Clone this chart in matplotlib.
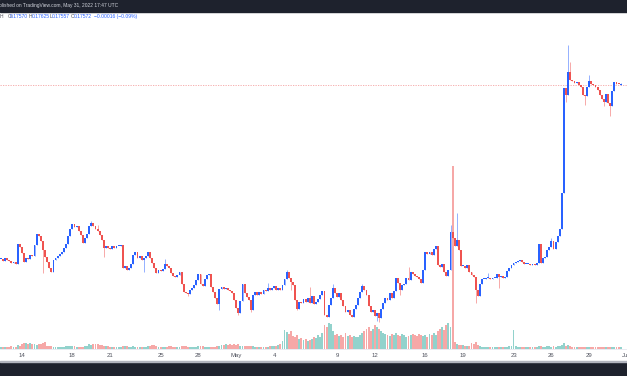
import numpy as np
import pandas as pd
import matplotlib
matplotlib.use("Agg")
import matplotlib.pyplot as plt
import matplotlib.dates as mdates
from matplotlib.patches import Rectangle

# 4h candles, 2022-04-12 08:00 UTC to 2022-05-31 16:00 UTC (closes)
close = [
    0.1235, 0.1229, 0.1238, 0.1232,
    0.1229, 0.1223, 0.1226, 0.1220, 0.1280, 0.1271,
    0.1253, 0.1226, 0.1238, 0.1235, 0.1247, 0.1244,
    0.1277, 0.1310, 0.1304, 0.1289, 0.1262, 0.1241,
    0.1226, 0.1208, 0.1196, 0.1232, 0.1238, 0.1244,
    0.1250, 0.1256, 0.1268, 0.1280, 0.1304, 0.1325,
    0.1340, 0.1331, 0.1334, 0.1319, 0.1307, 0.1283,
    0.1298, 0.1310, 0.1334, 0.1343, 0.1334, 0.1325,
    0.1319, 0.1307, 0.1292, 0.1268, 0.1274, 0.1268,
    0.1265, 0.1274, 0.1268, 0.1274, 0.1274, 0.1277,
    0.1208, 0.1214, 0.1202, 0.1208, 0.1220, 0.1247,
    0.1256, 0.1238, 0.1244, 0.1232, 0.1238, 0.1244,
    0.1256, 0.1238, 0.1223, 0.1208, 0.1193, 0.1202,
    0.1199, 0.1205, 0.1220, 0.1214, 0.1208, 0.1193,
    0.1184, 0.1181, 0.1187, 0.1196, 0.1160, 0.1136,
    0.1133, 0.1130, 0.1142, 0.1148, 0.1157, 0.1172,
    0.1190, 0.1160, 0.1154, 0.1175, 0.1187, 0.1190,
    0.1151, 0.1136, 0.1118, 0.1100, 0.1145, 0.1151,
    0.1145, 0.1148, 0.1142, 0.1139, 0.1133, 0.1112,
    0.1088, 0.1073, 0.1109, 0.1160, 0.1133, 0.1121,
    0.1112, 0.1082, 0.1127, 0.1136, 0.1127, 0.1136,
    0.1130, 0.1142, 0.1139, 0.1148, 0.1142, 0.1148,
    0.1154, 0.1142, 0.1148, 0.1142, 0.1157, 0.1175,
    0.1196, 0.1178, 0.1166, 0.1157, 0.1112, 0.1085,
    0.1106, 0.1103, 0.1115, 0.1106, 0.1118, 0.1103,
    0.1124, 0.1100, 0.1106, 0.1115, 0.1127, 0.1139,
    0.1067, 0.1061, 0.1097, 0.1118, 0.1148, 0.1133,
    0.1121, 0.1133, 0.1112, 0.1094, 0.1076, 0.1082,
    0.1067, 0.1061, 0.1085, 0.1097, 0.1118, 0.1136,
    0.1154, 0.1142, 0.1127, 0.1094, 0.1076, 0.1082,
    0.1064, 0.1073, 0.1058, 0.1085, 0.1103, 0.1118,
    0.1112, 0.1133, 0.1118, 0.1139, 0.1178, 0.1163,
    0.1142, 0.1157, 0.1160, 0.1178, 0.1172, 0.1196,
    0.1190, 0.1184, 0.1181, 0.1175, 0.1163, 0.1202,
    0.1256, 0.1250, 0.1256, 0.1247, 0.1265, 0.1274,
    0.1217, 0.1211, 0.1220, 0.1196, 0.1184, 0.1202,
    0.1316, 0.1298, 0.1274, 0.1292, 0.1262, 0.1214,
    0.1214, 0.1208, 0.1217, 0.1196, 0.1187, 0.1181,
    0.1142, 0.1124, 0.1160, 0.1175, 0.1175, 0.1178,
    0.1178, 0.1175, 0.1178, 0.1178, 0.1190, 0.1181,
    0.1184, 0.1178, 0.1181, 0.1199, 0.1208, 0.1217,
    0.1223, 0.1226, 0.1229, 0.1232, 0.1226, 0.1220,
    0.1220, 0.1220, 0.1217, 0.1220, 0.1217, 0.1223,
    0.1280, 0.1223, 0.1238, 0.1241, 0.1262, 0.1271,
    0.1289, 0.1265, 0.1286, 0.1304, 0.1325, 0.1433,
    0.1748, 0.1727, 0.1796, 0.1772, 0.1769, 0.1763,
    0.1766, 0.1757, 0.1751, 0.1727, 0.1724, 0.1751,
    0.1769, 0.1760, 0.1757, 0.1751, 0.1742, 0.1727,
    0.1715, 0.1706, 0.1730, 0.1703, 0.1694, 0.1739,
    0.1766, 0.1760, 0.17588, 0.17572,
]

# wicks that stick out of the bodies (candle index, price)
wick_hi_idx = [43, 46, 78, 127, 136, 147, 158, 172, 194, 214, 217, 232, 262, 270, 271, 280]
wick_hi = [0.1349, 0.1337, 0.1235, 0.1163, 0.1202, 0.1151, 0.1160, 0.1160, 0.1211,
           0.1337, 0.1373, 0.1193, 0.1298, 0.1877, 0.1826, 0.1787]
wick_lo_idx = [20, 49, 68, 89, 104, 113, 119, 138, 141, 179, 180, 190, 226, 237, 269, 278, 287, 290]
wick_lo = [0.1193, 0.1241, 0.1196, 0.1124, 0.1082, 0.1067, 0.1076, 0.1142, 0.1082,
           0.1049, 0.1046, 0.1127, 0.1103, 0.1148, 0.1706, 0.1697, 0.1694, 0.1664]

# last candle as shown in the legend
last_open, last_high, last_low, last_close = 0.17570, 0.17625, 0.17557, 0.17572

# volume per candle (K)
volume = [
    2, 2, 2, 2,
    2, 3, 2, 2, 4, 3,
    5, 6, 6, 5, 6, 5,
    5, 4, 5, 5, 6, 7,
    3, 3, 3, 2, 2, 2,
    2, 2, 2, 3, 3, 3,
    3, 3, 2, 2, 2, 2,
    3, 3, 5, 4, 5, 5,
    5, 4, 4, 3, 3, 3,
    2, 2, 2, 2, 2, 2,
    3, 3, 3, 2, 2, 3,
    2, 2, 2, 2, 2, 2,
    3, 3, 4, 4, 3, 2,
    2, 2, 2, 2, 3, 3,
    2, 2, 2, 2, 3, 3,
    3, 2, 2, 2, 2, 2,
    3, 3, 3, 2, 2, 2,
    2, 2, 2, 3, 3, 4,
    4, 5, 4, 5, 4, 5,
    4, 5, 3, 3, 3, 3,
    3, 3, 3, 2, 2, 2,
    2, 2, 2, 2, 3, 3,
    3, 3, 4, 5, 8, 19,
    17, 15, 18, 13, 12, 14,
    10, 11, 9, 10, 8, 9,
    10, 12, 11, 14, 12, 16,
    24, 22, 26, 25, 18, 14,
    15, 13, 14, 12, 16, 13,
    14, 12, 13, 12, 12, 14,
    16, 18, 20, 22, 18, 20,
    24, 22, 20, 18, 16, 15,
    14, 13, 15, 14, 16, 14,
    13, 15, 14, 12, 13, 14,
    15, 14, 13, 15, 14, 13,
    14, 12, 15, 14, 16, 14,
    18, 20, 22, 19, 24, 26,
    22, 183, 7, 5, 4, 4,
    4, 3, 3, 3, 6, 5,
    7, 4, 3, 2, 2, 2,
    2, 2, 2, 2, 2, 2,
    2, 2, 2, 2, 3, 3,
    19, 3, 2, 2, 2, 2,
    2, 2, 2, 2, 2, 2,
    3, 3, 2, 2, 3, 3,
    2, 3, 2, 3, 3, 4,
    6, 3, 4, 3, 2, 2,
    2, 2, 2, 2, 2, 2,
    2, 2, 2, 2, 2, 2,
    2, 2, 2, 2, 2, 2,
    2, 2, 2, 2,
]

tick_dates = ["2022-04-14", "2022-04-18", "2022-04-21", "2022-04-25", "2022-04-28",
              "2022-05-01", "2022-05-04", "2022-05-09", "2022-05-12", "2022-05-16",
              "2022-05-19", "2022-05-23", "2022-05-26", "2022-05-29", "2022-06-01"]
tick_labels = ["14", "18", "21", "25", "28", "May", "4", "9", "12", "16",
               "19", "23", "26", "29", "Jun"]

# Colors
UP = "#2962ff"
DOWN = "#ef5350"
VOL_UP = "#26a69a"
VOL_DOWN = "#ef5350"
DARK = "#1e222d"
GREY = "#50535e"

plt.rcParams["font.family"] = ["Liberation Sans", "DejaVu Sans"]

W, H = 627, 376
fig = plt.figure(figsize=(W / 100, H / 100), dpi=100)
fig.patch.set_facecolor("white")

# price pane from y=12 to y=349 px
ax = fig.add_axes([0, (H - 349) / H, 1, (349 - 12) / H])
vax = ax.twinx()
ax.set_zorder(vax.get_zorder() + 1)
ax.patch.set_visible(False)

# Build OHLC
close = np.array(close)
open_ = np.r_[close[0], close[:-1]]
open_[-1] = last_open
high = np.maximum(open_, close)
low = np.minimum(open_, close)
high[wick_hi_idx] = np.maximum(high[wick_hi_idx], wick_hi)
low[wick_lo_idx] = np.minimum(low[wick_lo_idx], wick_lo)
high[-1] = last_high
low[-1] = last_low

times = pd.date_range("2022-04-12 08:00", periods=len(close), freq="4h")
t = mdates.date2num(times.to_pydatetime())
up = close >= open_

body_lo = np.minimum(open_, close)
body_h = np.maximum(np.abs(close - open_), 0.0004)
body_colors = np.where(up, UP, DOWN)

# Volume (behind candles)
vol_colors = np.where(up, VOL_UP, VOL_DOWN)
vax.bar(t, volume, width=0.15, color=vol_colors, alpha=0.5, linewidth=0)
vax.set_ylim(0, 337)
vax.axis("off")

# Candles
ax.vlines(t, low, high, colors=body_colors, linewidth=0.7, alpha=0.5)
ax.bar(t, body_h, bottom=body_lo, width=0.15, color=body_colors, linewidth=0)

# last price line
ax.axhline(last_close, color="#f5a3a3", linewidth=0.6, linestyle=(0, (1.5, 1.5)), zorder=0)

x0 = mdates.date2num(pd.Timestamp("2022-04-14"))
ax.set_xlim(x0 - 22 / 12.64, x0 + 605 / 12.64)
ax.set_ylim(0.0965, 0.1976)

ax.set_xticks(mdates.date2num(pd.to_datetime(tick_dates).to_pydatetime()))
ax.set_xticklabels(tick_labels)
ax.tick_params(axis="x", length=0, pad=2.6, labelsize=4.3, labelcolor=GREY)
ax.set_yticks([])
for s in ["top", "left", "right"]:
    ax.spines[s].set_visible(False)
ax.spines["bottom"].set_color("#e0e3eb")
ax.spines["bottom"].set_linewidth(0.5)

# dark bands top and bottom
fig.patches.append(Rectangle((0, 1 - 12 / H), 1, 12 / H, transform=fig.transFigure,
                             color=DARK, zorder=5))
fig.patches.append(Rectangle((0, 0), 1, 14 / H, transform=fig.transFigure,
                             color=DARK, zorder=5))
fig.patches.append(Rectangle((0, 14 / H), 1, 1 / H, transform=fig.transFigure,
                             color="#b2b5be", zorder=5))

def px_text(x, y, s, **kw):
    fig.text(x / W, 1 - y / H, s, va="center", ha="left", **kw)

px_text(-7, 6, "Published on TradingView.com, May 31, 2022 17:47 UTC",
        color="#d1d4dc", fontsize=3.5, zorder=6)

legend = [("H", 0, GREY), ("O", 7.3, GREY), ("0.17570", 10.2, UP),
          ("H", 28.5, GREY), ("0.17625", 31.3, UP), ("L", 49.6, GREY),
          ("0.17557", 52.2, UP), ("C", 70.4, GREY), ("0.17572", 73.5, UP),
          ("\u22120.00016 (\u22120.09%)", 94, UP)]
for s, x, c in legend:
    px_text(x, 16.7, s, color=c, fontsize=3.6)

fig.savefig("out.png", dpi=100)
